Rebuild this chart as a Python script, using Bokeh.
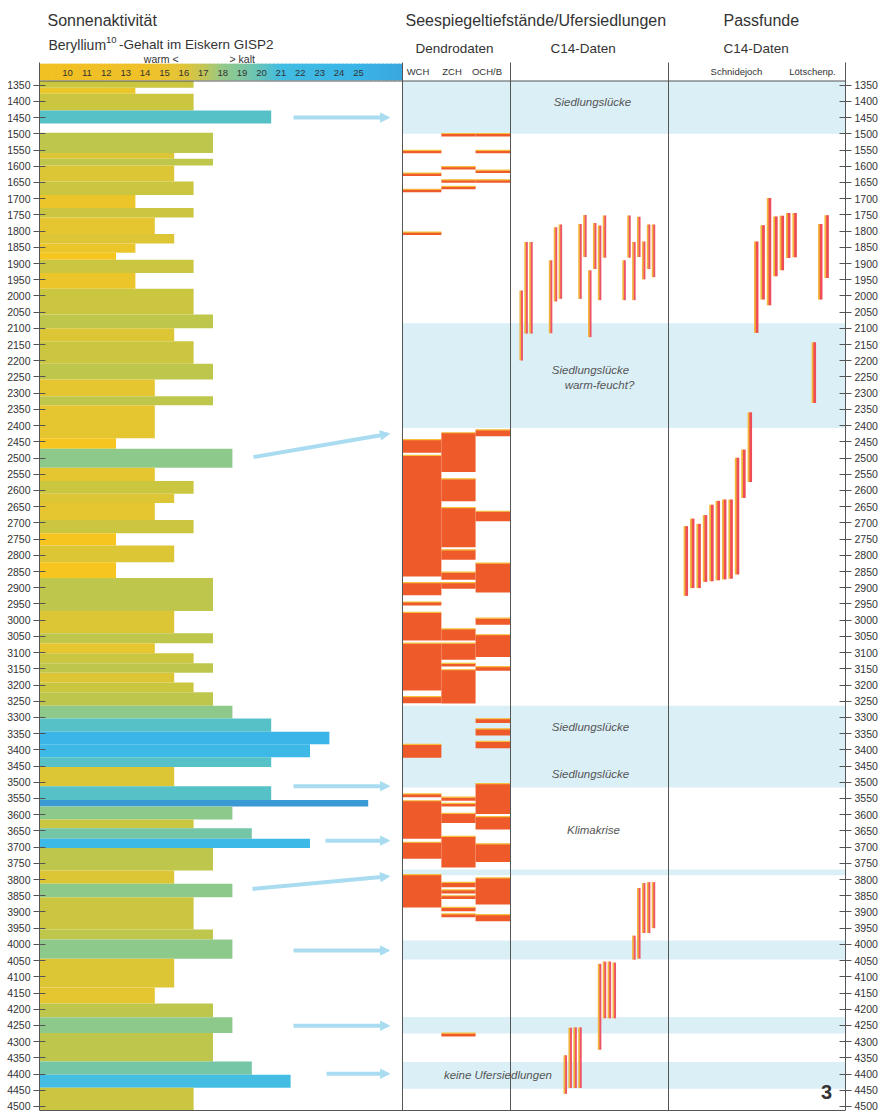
import numpy as np
from bokeh.plotting import figure
from bokeh.models import Range1d, LinearAxis, FixedTicker, Label, Arrow, NormalHead
from bokeh.core.properties import value
from bokeh.embed import file_html
from bokeh.resources import INLINE

# ---------------- data ----------------
TICK_YEARS = list(range(1350, 4501, 50))
SCALE_LABELS = [10, 11, 12, 13, 14, 15, 16, 17, 18, 19, 20, 21, 22, 23, 24, 25]

# Beryllium-10 bars: period (years BC) and value
BE_FROM = [1337, 1358, 1376, 1428, 1497, 1559, 1577, 1598, 1647, 1689, 1729, 1758, 1809, 1838,
           1867, 1888, 1929, 1978, 2057, 2100, 2140, 2209, 2258, 2309, 2337, 2439, 2471, 2530,
           2571, 2610, 2639, 2691, 2732, 2770, 2821, 2870, 2972, 3040, 3071, 3102, 3133, 3162,
           3192, 3222, 3264, 3303, 3344, 3383, 3423, 3453, 3512, 3555, 3575, 3615, 3642, 3674,
           3703, 3772, 3813, 3855, 3954, 3985, 4044, 4133, 4182, 4225, 4273, 4361, 4402, 4442]
BE_TO = [1358, 1376, 1428, 1468, 1559, 1577, 1598, 1647, 1689, 1729, 1758, 1809, 1838, 1867,
         1888, 1929, 1978, 2057, 2100, 2140, 2209, 2258, 2309, 2337, 2439, 2471, 2530, 2571,
         2610, 2639, 2691, 2732, 2770, 2821, 2870, 2972, 3040, 3071, 3102, 3133, 3162, 3192,
         3222, 3264, 3303, 3344, 3383, 3423, 3453, 3512, 3555, 3575, 3615, 3642, 3674, 3703,
         3772, 3813, 3855, 3954, 3985, 4044, 4133, 4182, 4225, 4273, 4361, 4402, 4442, 4512]
BE_VALUE = [16, 13, 16, 20, 17, 15, 17, 15, 16, 13, 16, 14, 15, 13,
            12, 16, 13, 16, 17, 15, 16, 17, 14, 17, 14, 12, 18, 14,
            16, 15, 14, 16, 12, 15, 12, 17, 15, 17, 14, 16, 17, 15,
            16, 17, 18, 20, 23, 22, 20, 15, 20, 25, 18, 16, 19, 22,
            17, 15, 18, 16, 17, 18, 15, 14, 17, 18, 17, 19, 21, 16]

# Dendro dates (lake-shore settlements)
WCH_FROM = [1551, 1621, 1671, 1803, 2443, 2492, 2884, 2944, 2976, 3071, 3236, 3383, 3536, 3557, 3685, 3785]
WCH_TO = [1560, 1630, 1680, 1812, 2484, 2865, 2923, 2955, 3063, 3217, 3256, 3424, 3546, 3674, 3736, 3886]
ZCH_FROM = [1499, 1601, 1642, 1662, 2422, 2564, 2653, 2783, 2852, 2884, 3027, 3071, 3133, 3153,
            3546, 3565, 3596, 3667, 3809, 3832, 3850, 3886, 3906, 4274]
ZCH_TO = [1508, 1610, 1651, 1671, 2543, 2633, 2775, 2814, 2875, 2903, 3063, 3122, 3143, 3257,
          3557, 3575, 3626, 3763, 3824, 3843, 3860, 3898, 3916, 4284]
OCH_FROM = [1499, 1551, 1612, 1642, 2413, 2664, 2824, 2994, 3045, 3143, 3304, 3335, 3374, 3504,
            3606, 3690, 3795, 3908]
OCH_TO = [1508, 1560, 1621, 1651, 2433, 2695, 2915, 3014, 3114, 3156, 3317, 3356, 3395, 3598,
          3646, 3746, 3877, 3929]

# C14 dates (lake-shore settlements)
C14_SLOT = [0, 1, 2, 6, 7, 8, 12, 13, 14, 15, 16, 17, 21, 22, 23, 24, 25, 26, 27,
            9, 10, 11, 12, 16, 17, 18, 19, 23, 24, 25, 26, 27]
C14_FROM = [1983, 1834, 1834, 1890, 1788, 1780, 1778, 1750, 1921, 1775, 1783, 1752, 1890, 1752,
            1834, 1756, 1832, 1780, 1780,
            4342, 4257, 4256, 4256, 4060, 4053, 4053, 4056, 3973, 3826, 3811, 3808, 3808]
C14_TO = [2199, 2116, 2116, 2115, 2017, 2009, 2009, 1880, 2127, 1917, 2013, 1882, 2013, 1882,
          2013, 1880, 1949, 1917, 1942,
          4461, 4443, 4443, 4443, 4325, 4228, 4228, 4228, 4047, 4044, 3965, 3965, 3950]

# C14 dates of pass finds
PASS_SLOT = [0, 1, 2, 3, 4, 5, 6, 7, 8, 9, 10, 11, 12, 13, 14, 15, 16, 17, 20, 21, 22]
PASS_FROM = [2710, 2687, 2703, 2676, 2644, 2632, 2628, 2628, 2499, 2474, 2359,
             1832, 1782, 1698, 1755, 1753, 1744, 1744, 2143, 1778, 1751]
PASS_TO = [2925, 2901, 2901, 2882, 2880, 2877, 2874, 2872, 2859, 2623, 2574,
           2114, 2011, 2029, 1939, 1921, 1883, 1881, 2330, 2011, 1945]

# light-blue periods
BAND_FROM = [1337, 2084, 3264, 3769, 3988, 4224, 4363]
BAND_TO = [1500, 2407, 3516, 3787, 4047, 4275, 4445]

BAND_TEXTS = ["Siedlungslücke", "Siedlungslücke", "warm-feucht?", "Siedlungslücke",
              "Siedlungslücke", "Klimakrise", "keine  Ufersiedlungen"]
BAND_TEXT_YEARS = [1403, 2227, 2276, 3328, 3474, 3647, 4404]

ARROW_YEARS_FROM = [1450, 2497, 3512, 3680, 3829, 4019, 4251, 4399]
ARROW_YEARS_TO = [1450, 2425, 3512, 3680, 3790, 4019, 4251, 4399]

# ---------------- layout / styles ----------------
FONT = "Liberation Sans"
TXT = "#333333"
W, H = 883, 1113
X0, X1 = 39, 845            # horizontal layout units (reference pixels)
PX_1350, PX_PER_YEAR = 84.7, 0.32422


def ref_year(y):
    """reference-picture vertical pixel -> year, for layout of header items"""
    return 1350 + (y - PX_1350) / PX_PER_YEAR


Y_TOP = ref_year(0)
Y_BOT = ref_year(H)


def unit_range(px_at, u_at, px_per_u):
    return Range1d(u_at + (X0 - px_at) / px_per_u, u_at + (X1 - px_at) / px_per_u)


p = figure(width=W, height=H, output_backend="svg", toolbar_location=None,
           x_range=Range1d(X0, X1), y_range=Range1d(Y_BOT, Y_TOP),
           x_axis_location=None, y_axis_location=None,
           min_border_left=X0, min_border_right=W - X1, min_border_top=0, min_border_bottom=0)
p.outline_line_color = None
p.xgrid.visible = False
p.ygrid.visible = False
p.background_fill_color = "white"
p.border_fill_color = "white"

p.extra_x_ranges = {
    "be": unit_range(76.7, 10, 19.4),
    "dendro": unit_range(402, 0, 36),
    "c14": unit_range(521, 0, 4.9),
    "pass": unit_range(685.7, 0, 6.4),
}
be_start = p.extra_x_ranges["be"].start
be_stop = 10 + (402 - 76.7) / 19.4

# bands
p.quad(left=[402] * len(BAND_FROM), right=[X1] * len(BAND_FROM), top=BAND_FROM, bottom=BAND_TO,
       fill_color="#dbeff7", line_color=None)

# colours
BAR_COLORS = {12: "#f7c51f", 13: "#ebc62b", 14: "#e6c630", 15: "#ddc636", 16: "#cac640",
              17: "#bec74c", 18: "#8ec98c", 19: "#74c6a6", 20: "#56c2c8", 21: "#43bee2",
              22: "#3db9e7", 23: "#3bb5e8", 24: "#3aa8e0", 25: "#3a9ad6"}
p.quad(left=[be_start] * len(BE_VALUE), right=BE_VALUE, top=BE_FROM, bottom=BE_TO,
       x_range_name="be", fill_color=[BAR_COLORS[v] for v in BE_VALUE], line_color=None)

# colour scale strip
stops_u = [8.0, 13.5, 14.5, 15.5, 16.5, 17.5, 18.5, 19.5, 20.5, 24.5, 27.0]
stops_c = ["#f2c024", "#f0c22a", "#ecc430", "#e2c53a", "#c4c656", "#96c98a", "#80c8a0",
           "#62c4be", "#42bde2", "#3bb5e8", "#3aa6de"]
rgb = np.array([[int(c[i:i + 2], 16) for i in (1, 3, 5)] for c in stops_c], dtype=float)
edges = np.linspace(be_start, be_stop, 91)
mids = (edges[:-1] + edges[1:]) / 2
cols = []
for m in mids:
    r, g, b = (np.interp(m, stops_u, rgb[:, k]) for k in range(3))
    cols.append("#%02x%02x%02x" % (int(r), int(g), int(b)))
p.quad(left=edges[:-1], right=np.minimum(edges[1:] + 0.08, be_stop), top=[ref_year(63.5)] * len(mids),
       bottom=[ref_year(79.5)] * len(mids), x_range_name="be", fill_color=cols,
       line_color=cols, line_width=0.6)
p.text(x=[v - 0.5 for v in SCALE_LABELS], y=[ref_year(72.5)] * len(SCALE_LABELS),
       text=[str(v) for v in SCALE_LABELS], x_range_name="be", text_align="center",
       text_baseline="middle", text_font=value(FONT), text_font_size="9.5px", text_color=TXT)

# dendro bars
DENDRO_RED = "#ef5a2b"
DENDRO_EDGE = "#f6c03c"
cols_edges = {"WCH": (0.0, 1.08), "ZCH": (1.08, 2.03), "OCH": (2.03, 3.0)}
for name, f, t in (("WCH", WCH_FROM, WCH_TO), ("ZCH", ZCH_FROM, ZCH_TO), ("OCH", OCH_FROM, OCH_TO)):
    l, r = cols_edges[name]
    p.quad(left=[l] * len(f), right=[r] * len(f), top=f, bottom=t, x_range_name="dendro",
           fill_color=DENDRO_RED, line_color=None)
    p.segment(x0=[l] * len(f), x1=[r] * len(f), y0=f, y1=f, x_range_name="dendro",
              line_color=DENDRO_EDGE, line_width=1.2)

# C14 lines
p.segment(x0=[s - 0.18 for s in C14_SLOT], x1=[s - 0.18 for s in C14_SLOT], y0=C14_FROM, y1=C14_TO,
          x_range_name="c14", line_color="#f2b63c", line_width=2.4)
p.segment(x0=[s + 0.1 for s in C14_SLOT], x1=[s + 0.1 for s in C14_SLOT], y0=C14_FROM, y1=C14_TO,
          x_range_name="c14", line_color="#ee5468", line_width=1.9)

# pass-find lines
p.segment(x0=[s - 0.14 for s in PASS_SLOT], x1=[s - 0.14 for s in PASS_SLOT], y0=PASS_FROM, y1=PASS_TO,
          x_range_name="pass", line_color="#f2b83a", line_width=3.4)
p.segment(x0=[s + 0.08 for s in PASS_SLOT], x1=[s + 0.08 for s in PASS_SLOT], y0=PASS_FROM, y1=PASS_TO,
          x_range_name="pass", line_color="#ef4d55", line_width=2.7)

# frame lines
LINE_C = "#555555"
y_head = ref_year(62)
y_foot = ref_year(1110)
p.segment(x0=[402, 510, 668], x1=[402, 510, 668], y0=[y_head] * 3, y1=[y_foot] * 3,
          line_color=LINE_C, line_width=1)
p.segment(x0=[X0, X0], x1=[X1, X1], y0=[ref_year(80.5), y_foot], y1=[ref_year(80.5), y_foot],
          line_color=LINE_C, line_width=1)

# arrows
ARROW_C = "#a9dcf0"
ARROW_X_FROM = [293, 253, 293, 325, 252, 293, 293, 326]
for xa, ya, yb in zip(ARROW_X_FROM, ARROW_YEARS_FROM, ARROW_YEARS_TO):
    p.add_layout(Arrow(x_start=xa, y_start=ya, x_end=389, y_end=yb, line_color=ARROW_C,
                       line_width=4, end=NormalHead(size=9, fill_color=ARROW_C, line_color=ARROW_C)))

# band annotations (italic)
p.text(x=[592, 590, 599, 590, 590, 593, 499], y=BAND_TEXT_YEARS, text=BAND_TEXTS,
       text_align="center", text_baseline="middle", text_font=value(FONT),
       text_font_style="italic", text_font_size="11.5px", text_color="#555555")

# headers
p.text(x=[47, 405, 723], y=[ref_year(20)] * 3,
       text=["Sonnenaktivität", "Seespiegeltiefstände/Ufersiedlungen", "Passfunde"],
       text_align="left", text_baseline="middle", text_font=value(FONT),
       text_font_size="16px", text_color=TXT)
p.text(x=[48], y=[ref_year(44)], text=["Beryllium"], text_align="left", text_baseline="middle",
       text_font=value(FONT), text_font_size="14px", text_color=TXT)
p.text(x=[118.5, 415, 550, 723], y=[ref_year(44)] + [ref_year(48)] * 3,
       text=["-Gehalt im Eiskern GISP2", "Dendrodaten", "C14-Daten", "C14-Daten"],
       text_align="left", text_baseline="middle", text_font=value(FONT),
       text_font_size="13.5px", text_color=TXT)
p.text(x=[105.5], y=[ref_year(39)], text=["10"], text_align="left", text_baseline="middle",
       text_font=value(FONT), text_font_size="9.5px", text_color=TXT)
p.text(x=[181], y=[ref_year(58.5)], text=["warm  <"], text_align="right", text_baseline="middle",
       text_font=value(FONT), text_font_size="10.5px", text_color=TXT)
p.text(x=[229], y=[ref_year(58.5)], text=["> kalt"], text_align="left", text_baseline="middle",
       text_font=value(FONT), text_font_size="10.5px", text_color=TXT)
p.text(x=[417.5, 451.5, 486.5, 736, 812], y=[ref_year(71)] * 5,
       text=["WCH", "ZCH", "OCH/B", "Schnidejoch", "Lötschenp."],
       text_align="center", text_baseline="middle", text_font=value(FONT),
       text_font_size="9.5px", text_color=TXT)
p.text(x=[826], y=[ref_year(1091)], text=["3"], text_align="center", text_baseline="middle",
       text_font=value(FONT), text_font_style="bold", text_font_size="20px", text_color=TXT)

for xl in (7.5, 849):
    p.add_layout(Label(x=xl, y=ref_year(71), text="v.Chr.", text_align="left",
                       text_baseline="middle", text_font=FONT, text_font_size="10.5px",
                       text_color=TXT))

# axes
for side in ("left", "right"):
    ax = LinearAxis(ticker=FixedTicker(ticks=TICK_YEARS), bounds=(y_head, y_foot))
    ax.axis_line_color = LINE_C
    ax.major_tick_line_color = LINE_C
    ax.major_tick_in = 6
    ax.major_tick_out = 6
    ax.minor_tick_in = 0
    ax.minor_tick_out = 0
    ax.major_label_standoff = 3
    ax.major_label_text_font = FONT
    ax.major_label_text_font_size = "10.5px"
    ax.major_label_text_color = TXT
    p.add_layout(ax, side)

open("out.html", "w").write(file_html(p, INLINE))
